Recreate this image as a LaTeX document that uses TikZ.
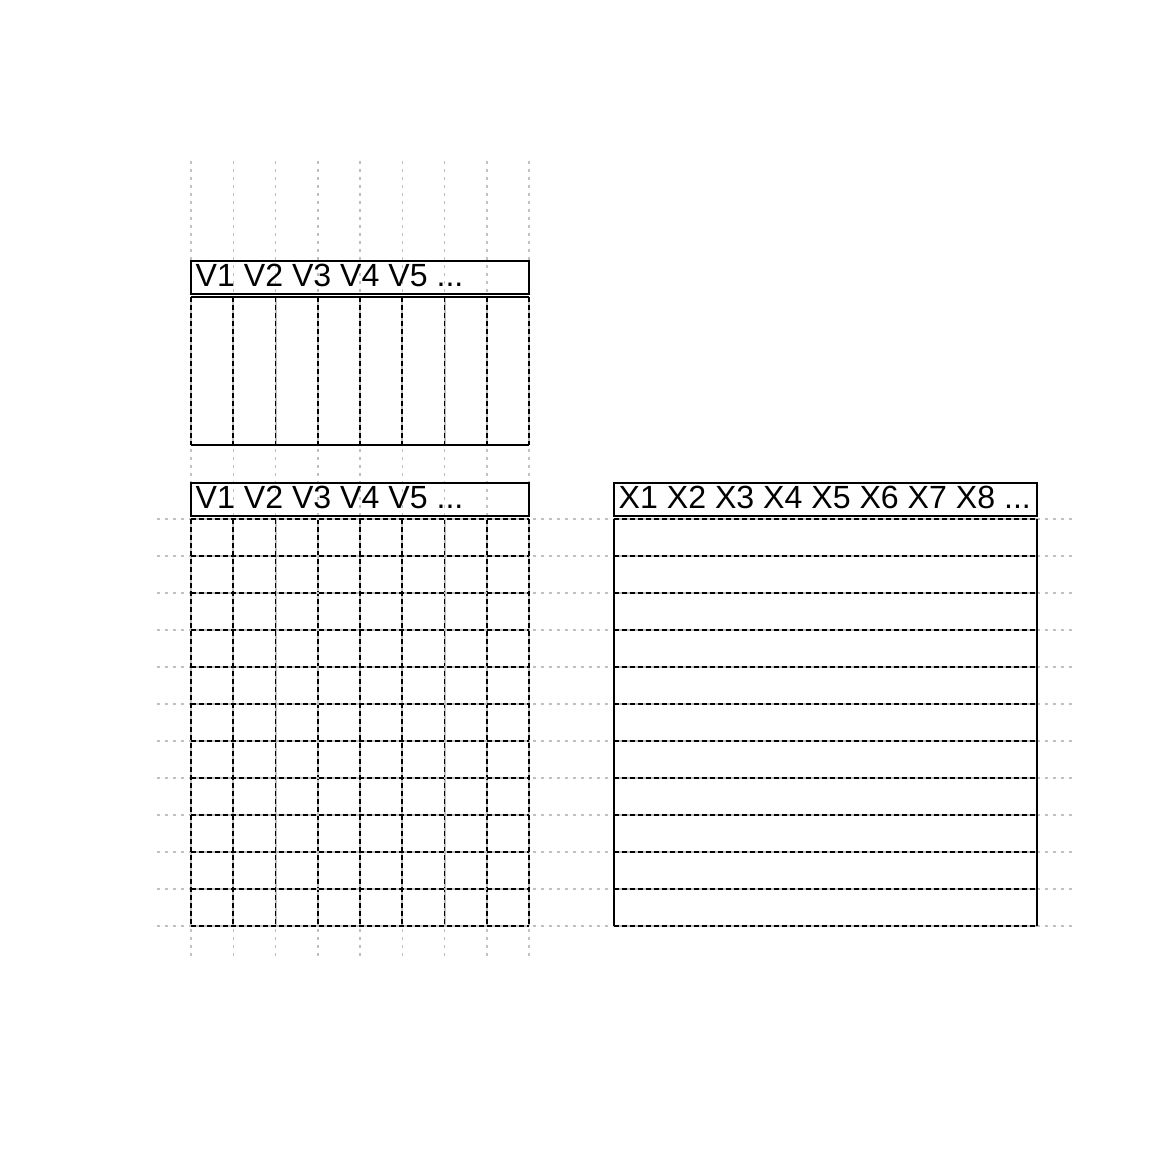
\documentclass[tikz,border=0pt]{standalone}
\usepackage{fontspec}
\setmainfont{Liberation Sans}
\definecolor{guide}{RGB}{192,192,192}
\tikzset{
	guideline/.style={guide,line width=1.5pt,dash pattern=on 3pt off 5pt},
	cellbase/.style={guide,line width=2pt},
	cellline/.style={black,line width=1.7pt,dash pattern=on 4.5pt off 3.5pt},
	boxline/.style={black,line width=2pt},
	hdrtext/.style={anchor=base west,inner sep=0pt,font=\fontsize{32.1}{36}\selectfont}
}
\begin{document}
\begin{tikzpicture}[x=1pt,y=-1pt]
		\useasboundingbox (0,0) rectangle (1152,1152);
		% guides
		\foreach \c in {0,...,8}
			\draw[guideline] ({191+42.25*\c},161) -- ({191+42.25*\c},957);
		\foreach \r in {0,...,11}
			\draw[guideline] (157,{519+37*\r}) -- (1073,{519+37*\r});
		
		% top table: columns only
		\foreach \c in {0,...,8} {
			\draw[cellbase] ({191+42.25*\c},297) -- ({191+42.25*\c},445);
			\draw[cellline] ({191+42.25*\c},297) -- ({191+42.25*\c},445);
		}
		\draw[boxline] (191,261) rectangle (529,294);
		\draw[boxline] (191,297) -- (529,297);
		\draw[boxline] (191,445) -- (529,445);
		\node[hdrtext] (vtop) at (195.5,286.5) {V1 V2 V3 V4 V5 ...};
		
		% left table: full grid
		\foreach \c in {0,...,8} {
			\draw[cellbase] ({191+42.25*\c},519) -- ({191+42.25*\c},926);
			\draw[cellline] ({191+42.25*\c},519) -- ({191+42.25*\c},926);
		}
		\foreach \r in {0,...,11} {
			\draw[cellbase] (191,{519+37*\r}) -- (529,{519+37*\r});
			\draw[cellline] (191,{519+37*\r}) -- (529,{519+37*\r});
		}
		\draw[boxline] (191,483) rectangle (529,516);
		\node[hdrtext] (vgrid) at (195.5,508) {V1 V2 V3 V4 V5 ...};
		
		% right table: rows only
		\foreach \r in {0,...,11} {
			\draw[cellbase] (614,{519+37*\r}) -- (1037,{519+37*\r});
			\draw[cellline] (614,{519+37*\r}) -- (1037,{519+37*\r});
		}
		\draw[boxline] (614,519) -- (614,926);
		\draw[boxline] (1037,519) -- (1037,926);
		\draw[boxline] (614,483) rectangle (1037,516);
		\node[hdrtext] (xrows) at (618.5,508) {X1 X2 X3 X4 X5 X6 X7 X8 ...};
	\end{tikzpicture}
\end{document}
